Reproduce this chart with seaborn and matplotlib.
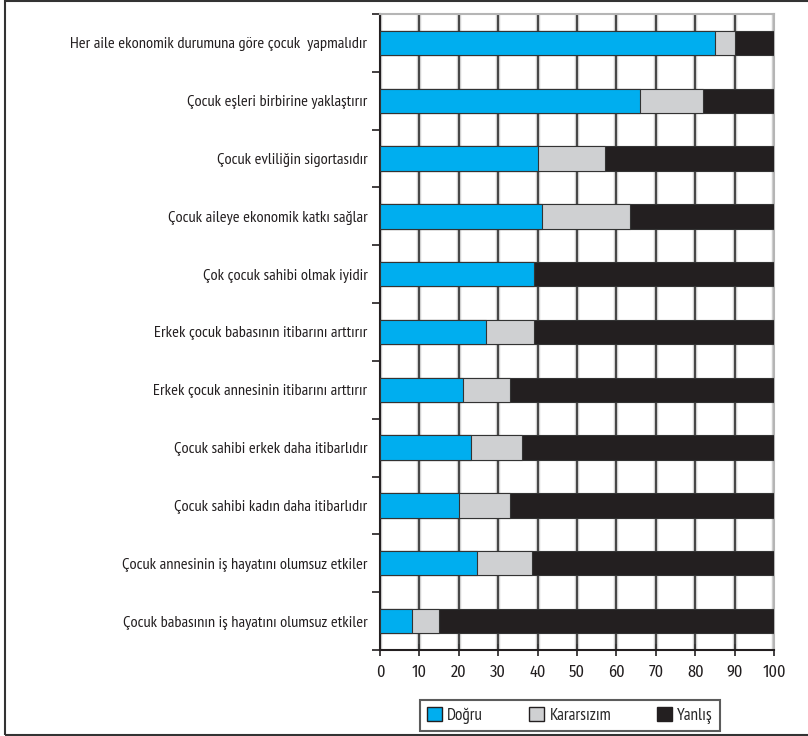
import pandas as pd
import matplotlib.pyplot as plt
import seaborn as sns
from matplotlib.patches import Patch, Rectangle
import numpy as np

kategoriler = ["Her aile ekonomik durumuna göre çocuk  yapmalıdır",
               "Çocuk eşleri birbirine yaklaştırır",
               "Çocuk evliliğin sigortasıdır",
               "Çocuk aileye ekonomik katkı sağlar",
               "Çok çocuk sahibi olmak iyidir",
               "Erkek çocuk babasının itibarını arttırır",
               "Erkek çocuk annesinin itibarını arttırır",
               "Çocuk sahibi erkek daha itibarlıdır",
               "Çocuk sahibi kadın daha itibarlıdır",
               "Çocuk annesinin iş hayatını olumsuz etkiler",
               "Çocuk babasının iş hayatını olumsuz etkiler"]
dogru = [85, 66, 40, 41, 39, 27, 21, 23, 20, 24.5, 8]
kararsizim = [5, 16, 17, 22.5, 0, 12, 12, 13, 13, 14, 7]
yanlis = [10, 18, 43, 36.5, 61, 61, 67, 64, 67, 61.5, 85]
x_ticks = [0, 10, 20, 30, 40, 50, 60, 70, 80, 90, 100]

df = pd.DataFrame({"madde": kategoriler, "Doğru": dogru,
                   "Kararsızım": kararsizim, "Yanlış": yanlis})
df["c1"] = df["Doğru"]
df["c2"] = df["Doğru"] + df["Kararsızım"]
df["c3"] = df["c2"] + df["Yanlış"]

sns.set_style("white")
plt.rcParams['font.family'] = ['PT Sans Narrow', 'DejaVu Sans']

mavi = "#00aeef"
gri = "#cfd0d2"
siyah = "#231f20"
fs = 11.8

fig = plt.figure(figsize=(8.08, 7.36), dpi=100)
ax = fig.add_axes([380 / 808, 1 - 650 / 736, 394 / 808, 636 / 736])

# yigilmis cubuklar: once toplam, sonra ustune daha kisalar
for kol, renk in [("c3", siyah), ("c2", gri), ("c1", mavi)]:
    sns.barplot(data=df, x=kol, y="madde", orient="h", color=renk, width=0.42,
                edgecolor="#333333", linewidth=0.8, saturation=1, ax=ax, zorder=3)

ax.set_xlim(0, 100)
ax.set_ylim(len(kategoriler) - 0.5, -0.5)
ax.set_xticks(x_ticks)
ax.set_xticklabels([str(t) for t in x_ticks], fontsize=fs,
                   family=['Fira Sans Condensed', 'PT Sans Narrow', 'DejaVu Sans'])
ax.xaxis.get_major_ticks()[-1].set_pad(9)
ax.set_xlabel("")
ax.set_ylabel("")
ax.set_yticks(range(len(kategoriler)))
ax.set_yticklabels(kategoriler, fontsize=fs)
ax.set_yticks(np.arange(-0.5, len(kategoriler), 1), minor=True)
ax.tick_params(axis="y", which="major", length=0, pad=9, colors="#231f20")
ax.tick_params(axis="y", which="minor", left=True, length=6, width=1.2, color="#231f20")
ax.tick_params(axis="x", which="major", bottom=True, direction="inout", length=8,
               width=1.2, color="#231f20", colors="#231f20", pad=6)

ax.grid(axis="x", color="#d0d0d0", linewidth=3.2, zorder=0)
for t in x_ticks[1:-1]:
    ax.axvline(t, color="#3a3a3a", linewidth=1.3, zorder=1)
ax.set_axisbelow(True)

for s in ["top", "right"]:
    ax.spines[s].set_color("#b5b5b5")
    ax.spines[s].set_linewidth(1.5)
for s in ["left", "bottom"]:
    ax.spines[s].set_color("#231f20")
    ax.spines[s].set_linewidth(1.5)

handles = [Patch(facecolor=mavi, edgecolor="#231f20", label="Doğru"),
           Patch(facecolor=gri, edgecolor="#231f20", label="Kararsızım"),
           Patch(facecolor=siyah, edgecolor="#231f20", label="Yanlış")]
leg = fig.legend(handles=handles, loc="lower left", ncol=3, mode="expand",
                 bbox_to_anchor=(420 / 808, 1 - 731 / 736, 300 / 808, 31 / 736),
                 fontsize=fs + 0.5, frameon=True, fancybox=False, handlelength=0.9,
                 handleheight=0.9, handletextpad=0.3, borderaxespad=0, borderpad=0.4)
leg.get_frame().set_edgecolor("#333333")
leg.get_frame().set_linewidth(1.5)
# cerceveyi referanstaki genislige cek
fig.canvas.draw()
fr = leg.get_frame()
fr.set_width(314 * fig.dpi / 100 * 1.0)

fig.patches.append(Rectangle((5 / 808, 1 / 736), 1.0, 734 / 736, transform=fig.transFigure,
                             fill=False, edgecolor="#333333", linewidth=1.5))

plt.savefig("out.png", dpi=100)
